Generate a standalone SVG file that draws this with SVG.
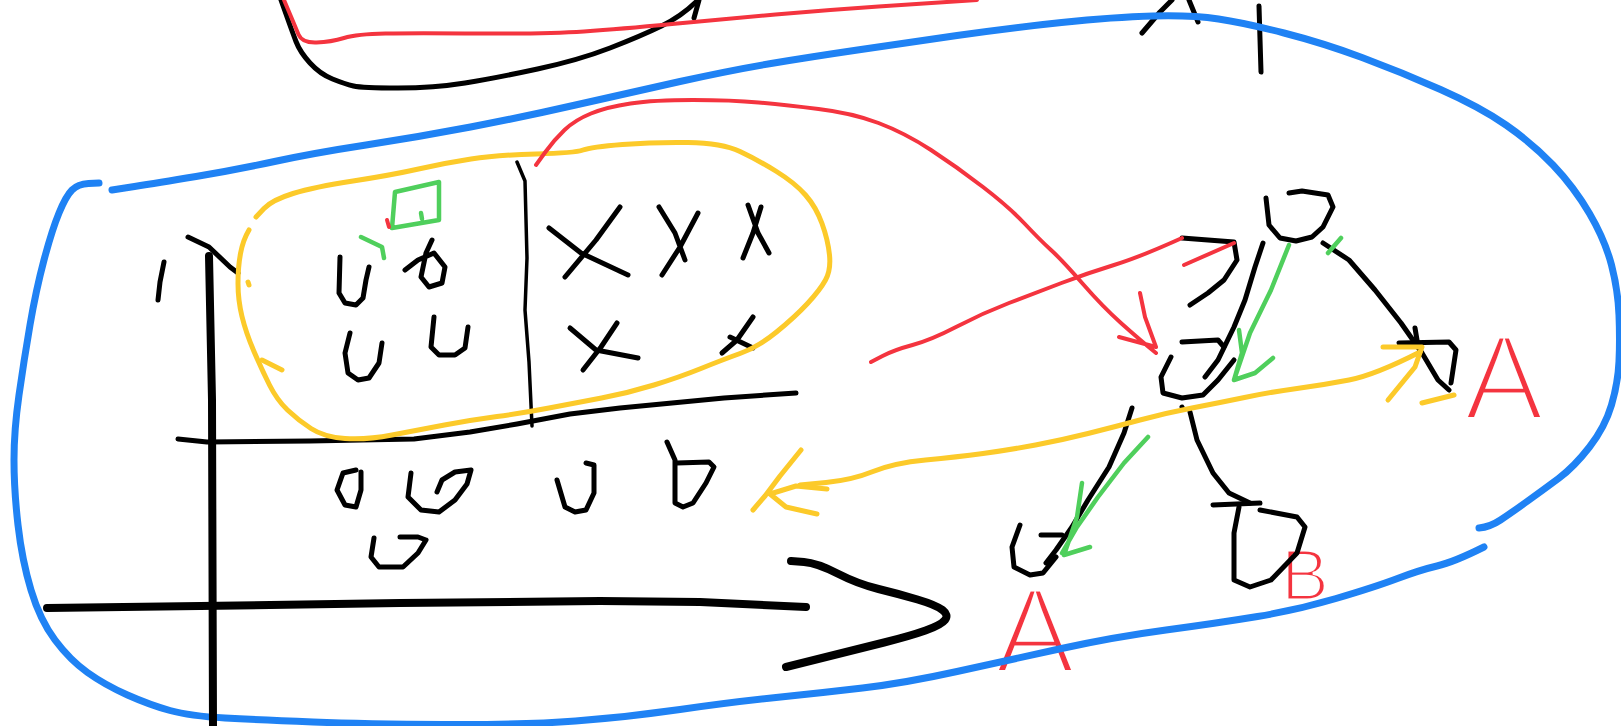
<svg xmlns="http://www.w3.org/2000/svg" width="1621" height="726" viewBox="0 0 1621 726">
<style>
path{fill:none;stroke-linecap:round;stroke-linejoin:round}
.k{stroke:#000;stroke-width:5}
.k3{stroke:#000;stroke-width:3.5}
.kt{stroke:#000;stroke-width:8}
.b{stroke:#1f82f4;stroke-width:7}
.r{stroke:#f4343f;stroke-width:4}
.y{stroke:#fcca2a;stroke-width:5}
.g{stroke:#4fcf5c;stroke-width:4.5}
.lbl{fill:#f4343f;stroke:#fff;stroke-width:5;font-family:"Liberation Sans",Arial,sans-serif}
</style>
<rect width="1621" height="726" fill="#fff"/>
<g id="labels">
<text class="lbl" x="1464" y="419" font-size="120">A</text>
<text class="lbl" x="995" y="672" font-size="120">A</text>
<text class="lbl" x="1281" y="600" font-size="72" style="stroke-width:3">B</text>
</g>
<g id="top-sketch">
<path class="k" d="M281,0 L286.5,15.5 Q292,31 296,41.5 Q300,52 310,63 Q320,74 332.5,79 Q345,84 353.5,86 Q362,88 398,88 Q434,88 465,83 Q496,78 537.5,69 Q579,60 610,48 Q641,36 661.5,26 Q682,16 698,0"/>
<path class="k" d="M694,18 L699,0"/>
<path class="r" d="M284,0 L289.5,13 Q295,26 298.5,34.5 Q302,43 316.5,42.5 Q331,42 344,38 Q357,34 385.5,33.5 Q414,33 481,33.5 Q548,34 584,31.5 Q620,29 672,24 Q724,19 775.5,14.5 Q827,10 878.5,6.5 Q930,3 977,0"/>
<path class="k" d="M1142,33 L1160,12 L1172,0"/>
<path class="k" d="M1189,0 L1198,22"/>
<path class="k" d="M1259,6 L1261,72"/>
</g>
<g id="blue-boundary">
<path class="b" d="M99,183 L88.5,183.5 Q78,184 72,190 Q66,196 59,213 Q52,230 44,260 Q36,290 30,325 Q24,360 19,395 Q14,430 14,460 Q14,490 18,525 Q22,560 31,590 Q40,620 55,640 Q70,660 87.5,672.5 Q105,685 127.5,695 Q150,705 170,710.5 Q190,716 225,718 Q260,720 313,722 Q366,724 444.5,724.5 Q523,725 575.5,721 Q628,717 680,709.5 Q732,702 776,697.5 Q820,693 862.5,688 Q905,683 957,671.5 Q1009,660 1061.5,648.5 Q1114,637 1166,630 Q1218,623 1257.5,616.5 Q1297,610 1336,598.5 Q1375,587 1397.5,578.5 Q1420,570 1437,566 Q1454,562 1484,547"/>
<path class="b" d="M112,190 L134.5,186.5 Q157,183 196,176.5 Q235,170 274.5,161.5 Q314,153 366,145 Q418,137 470.5,127 Q523,117 575.5,105 Q628,93 680,81.5 Q732,70 771,63.5 Q810,57 857.5,50 Q905,43 957,35.5 Q1009,28 1061.5,22.5 Q1114,17 1153,16 Q1192,15 1218.5,19 Q1245,23 1284,33 Q1323,43 1362,57.5 Q1401,72 1440.5,89.5 Q1480,107 1506,125 Q1532,143 1553,165 Q1574,187 1589.5,213.5 Q1605,240 1611.5,265 Q1618,290 1619,315 Q1620,340 1619,361.5 Q1618,383 1611.5,405 Q1605,427 1589.5,447 Q1574,467 1558.5,478.5 Q1543,490 1527,501.5 Q1511,513 1500.5,520 Q1490,527 1479,528"/>
</g>
<g id="plot-axes">
<path class="k" d="M188,237 L209,247 L230,267 L238,273"/>
<path class="kt" d="M209,256 L212,400 L213,726"/>
<path class="k" d="M164,262 L160,282 L158,300"/>
<path class="kt" d="M47,608 L200,606 L400,603 L600,601 L700,602 L806,607"/>
<path class="kt" stroke-width="6" d="M791,561 L804,562 Q817,563 837.5,573.5 Q858,584 878.5,589 Q899,594 917.5,599.5 Q936,605 942.5,610 Q949,615 945,620 Q941,625 925.5,630.5 Q910,636 884,642.5 Q858,649 786,667"/>
<path class="k" d="M178,439 L207,442 L310,441 L414,439 L470,432 L517,424 L570,414 L620,408 L724,398 L796,393"/>
<path class="k3" d="M517,162 L525,181 L527,258 L525,310 L529,362 L532,426"/>
</g>
<g id="data-points">
<path class="k" d="M340,257 L339,293 L345,303 L356,305 L363,298 L366,280 L369,267"/>
<path class="k" d="M405,270 L418,260 L434,253 L445,267 L442,283 L429,287 L421,277 L426,253 L432,240"/>
<path class="k" d="M350,333 L345,353 L348,373 L358,380 L369,378 L379,363 L382,343"/>
<path class="k" d="M434,317 L431,347 L439,355 L455,355 L465,348 L468,327"/>
<path class="k" d="M549,228 L581,253 L628,275 M620,207 L596,240 L565,277"/>
<path class="k" d="M659,207 L675,233 L685,260 M698,213 L680,247 L662,275"/>
<path class="k" d="M748,205 L758,233 L769,253 M761,207 L753,233 L743,258"/>
<path class="k" d="M570,328 L596,350 L638,358 M617,323 L601,347 L583,370"/>
<path class="k" d="M722,353 L737,340 L753,317 M730,337 L753,348"/>
<path class="k" d="M356,470 L343,473 L337,490 L345,505 L356,507 L361,490 L361,472"/>
<path class="k" d="M411,473 L408,497 L421,510 L439,512 L455,500 L467,484 L471,470 L455,472 L442,480 L437,492"/>
<path class="k" d="M557,480 L565,507 L575,512 L586,510 L594,493 L594,465 L586,463"/>
<path class="k" d="M667,442 L675,460 L675,503 L683,507 L693,503 L706,483 L714,467 L709,462 L677,463"/>
<path class="k" d="M374,538 L371,557 L379,567 L403,567 L418,553 L426,540 L418,537 L400,537"/>
<path class="g" d="M395,192 L439,182 L439,220 L392,228 Z M421,213 L422,219"/>
<path class="g" d="M361,237 L382,247 L384,258"/>
<path class="r" d="M387,220 L389,227"/>
</g>
<g id="yellow-region">
<path class="y" d="M256,217 L264,208.5 Q272,200 293,193.5 Q314,187 353,181 Q392,175 418.5,169 Q445,163 471,159 Q497,155 536,154 Q575,153 583,150 Q591,147 622.5,144.5 Q654,142 688,142.5 Q722,143 740,151.5 Q758,160 776.5,171.5 Q795,183 805.5,195 Q816,207 822,223.5 Q828,240 829.5,255 Q831,270 825.5,280 Q820,290 807.5,303.5 Q795,317 776.5,332 Q758,347 740,353.5 Q722,360 701,368.5 Q680,377 654,385 Q628,393 601.5,398 Q575,403 549,408 Q523,413 497,416.5 Q471,420 444.5,425 Q418,430 392,435 Q366,440 345,438.5 Q324,437 311,428.5 Q298,420 287.5,410 Q277,400 269.5,385 Q262,370 254,351.5 Q246,333 242,316.5 Q238,300 238,283.5 Q238,267 240.5,253.5 Q243,240 249,230"/>
<path class="y" d="M262,360 L282,370"/>
<path class="y" d="M248,282 L249,285"/>
</g>
<g id="tree-root">
<path class="k" d="M1266,198 L1269,225 L1280,238 L1296,241 L1312,237 L1323,227 L1333,207 L1328,195 L1302,191 L1289,193"/>
</g>
<g id="tree-middle">
<path class="k" d="M1182,342 L1218,340 L1224,347"/>
<path class="k" d="M1171,357 L1161,377 L1163,393 L1182,398 L1203,395 L1218,380 L1234,360"/>
<path class="k" d="M1182,238 L1234,242 L1237,260 L1224,280 L1208,293 L1190,305"/>
</g>
<g id="tree-right">
<path class="k" d="M1399,343 L1449,342 L1456,350 L1451,383"/>
<path class="k" d="M1415,328 L1418,346"/>
</g>
<g id="tree-bottom-left">
<path class="k" d="M1020,525 L1012,547 L1014,567 L1030,575 L1043,573 L1056,557"/>
<path class="k" d="M1041,535 L1062,535"/>
</g>
<g id="tree-bottom-right">
<path class="k" d="M1213,505 L1260,503"/>
<path class="k" d="M1239,507 L1234,533 L1234,580 L1250,587 L1271,580 L1297,553 L1305,527 L1297,517 L1260,510"/>
</g>
<g id="connectors">
<path class="k" d="M1323,243 L1349,260 L1375,290 L1401,323 L1422,353 L1438,380 L1449,390"/>
<path class="k" d="M1263,243 L1255,267 L1245,300 L1234,327 L1218,360 L1205,377"/>
<path class="k" d="M1132,408 L1124,433 L1109,467 L1088,500 L1072,527 L1056,550 L1046,563"/>
<path class="k" d="M1182,407 L1183,409"/>
<path class="k" d="M1190,412 L1197,440 L1213,473 L1229,493 L1250,503"/>
<path class="g" d="M1289,245 L1271,290 L1250,333 L1234,380 M1239,330 L1242,353 L1234,380 L1255,373 L1273,358"/>
<path class="g" d="M1328,253 L1341,238"/>
<path class="g" d="M1148,437 L1124,463 L1098,497 L1077,527 L1062,553 M1082,483 L1077,517 L1064,555 L1090,547"/>
<path class="r" d="M536,165 L545,152.5 Q554,140 564.5,130 Q575,120 591,113.5 Q607,107 630.5,103.5 Q654,100 693,100 Q732,100 758.5,102.5 Q785,105 818.5,109 Q852,113 878.5,123 Q905,133 931,150 Q957,167 983,187 Q1009,207 1024.5,223.5 Q1040,240 1051,250 Q1062,260 1082.5,283.5 Q1103,307 1121.5,323.5 Q1140,340 1156,353 M1119,337 L1156,347 M1140,293 L1145,317 L1156,347"/>
<path class="r" d="M871,362 L882.5,356 Q894,350 912.5,345 Q931,340 957,326.5 Q983,313 1009,303 Q1035,293 1061.5,283 Q1088,273 1114,265 Q1140,257 1182,238"/>
<path class="r" d="M1184,265 L1234,243"/>
<path class="y" d="M800,485 L826,482.5 Q852,480 873,471.5 Q894,463 925.5,460 Q957,457 983,453.5 Q1009,450 1035.5,445 Q1062,440 1088,433.5 Q1114,427 1140,420 Q1166,413 1192,408 Q1218,403 1244.5,397.5 Q1271,392 1297,388.5 Q1323,385 1349,380 Q1375,375 1420,352"/>
<path class="y" d="M1383,347 L1422,347 L1415,367 L1388,400"/>
<path class="y" d="M1422,403 L1454,395"/>
<path class="y" d="M801,450 L780,476 L765,496 L753,510 M827,489 L796,486 L770,494 L786,507 L817,514"/>
</g>
</svg>
